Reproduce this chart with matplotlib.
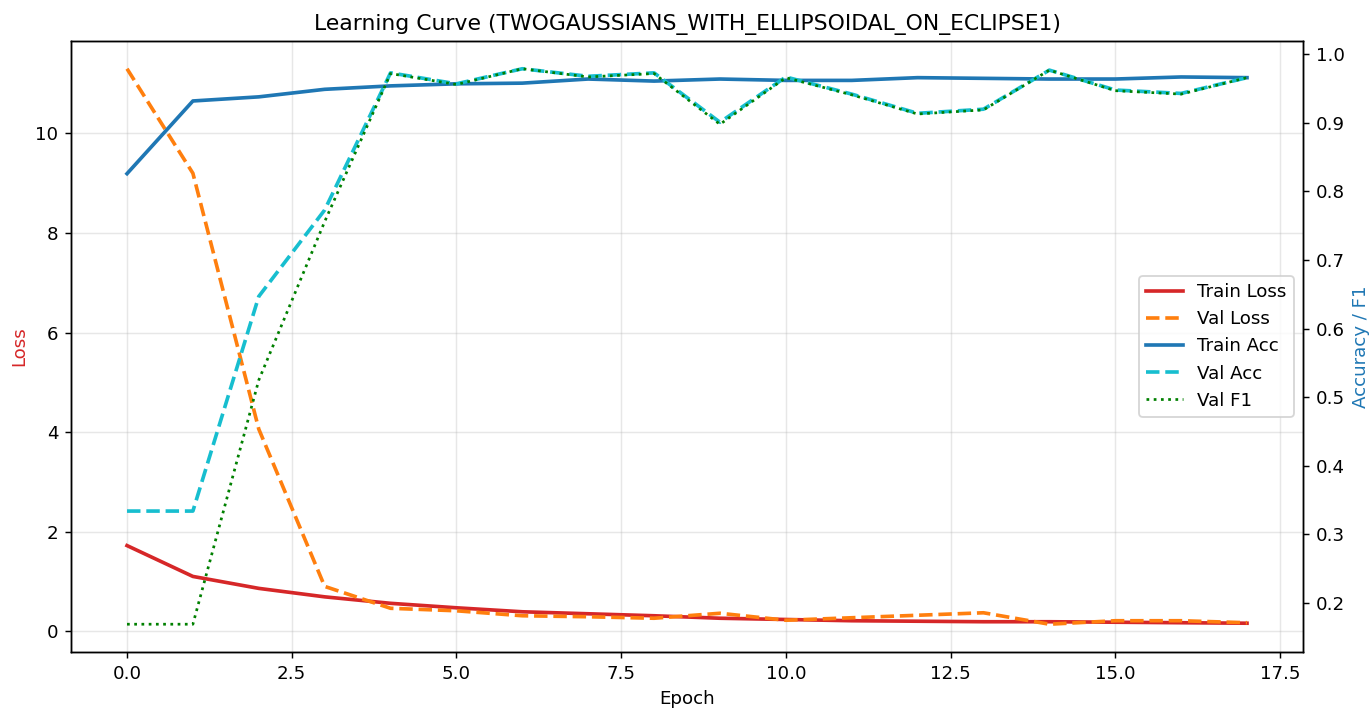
import numpy as np
import matplotlib
matplotlib.use("Agg")
import matplotlib.pyplot as plt

# Values
epochs = np.arange(18)
train_loss = [1.72, 1.10, 0.86, 0.69, 0.56, 0.47, 0.39, 0.35, 0.31, 0.26,
              0.235, 0.21, 0.20, 0.19, 0.19, 0.18, 0.17, 0.16]
val_loss = [11.30, 9.20, 4.06, 0.90, 0.46, 0.41, 0.31, 0.29, 0.26, 0.36,
            0.22, 0.27, 0.32, 0.37, 0.14, 0.21, 0.21, 0.17]
train_acc = [0.826, 0.932, 0.938, 0.949, 0.954, 0.957, 0.958, 0.964, 0.961, 0.964,
             0.962, 0.962, 0.966, 0.965, 0.964, 0.964, 0.967, 0.966]
val_acc = [0.334, 0.334, 0.647, 0.773, 0.973, 0.957, 0.979, 0.968, 0.973, 0.901,
           0.967, 0.942, 0.914, 0.920, 0.977, 0.948, 0.943, 0.966]
val_f1 = [0.169, 0.169, 0.525, 0.756, 0.972, 0.956, 0.979, 0.967, 0.972, 0.898,
          0.966, 0.941, 0.913, 0.919, 0.977, 0.947, 0.942, 0.966]

dpi = 131
fig, ax1 = plt.subplots(figsize=(1371 / dpi, 710 / dpi), dpi=dpi)
fig.subplots_adjust(left=0.0518, right=0.9504, top=0.9423, bottom=0.0817)

# Loss on the left axis
l1, = ax1.plot(epochs, train_loss, color="tab:red", lw=2, label="Train Loss")
l2, = ax1.plot(epochs, val_loss, color="tab:orange", lw=2, ls="--", label="Val Loss")
ax1.set_xlabel("Epoch")
ax1.set_ylabel("Loss", color="tab:red")
ax1.grid(True, alpha=0.3)

# Accuracy / F1 on the right axis
ax2 = ax1.twinx()
l3, = ax2.plot(epochs, train_acc, color="tab:blue", lw=2, label="Train Acc")
l4, = ax2.plot(epochs, val_acc, color="tab:cyan", lw=2, ls="--", label="Val Acc")
l5, = ax2.plot(epochs, val_f1, color="green", lw=1.5, ls=":", label="Val F1")
ax2.set_ylabel("Accuracy / F1", color="tab:blue")

lines = [l1, l2, l3, l4, l5]
ax2.legend(lines, [l.get_label() for l in lines], loc="center right")

ax1.set_title("Learning Curve (TWOGAUSSIANS_WITH_ELLIPSOIDAL_ON_ECLIPSE1)")
fig.savefig("out.png", dpi=dpi)
